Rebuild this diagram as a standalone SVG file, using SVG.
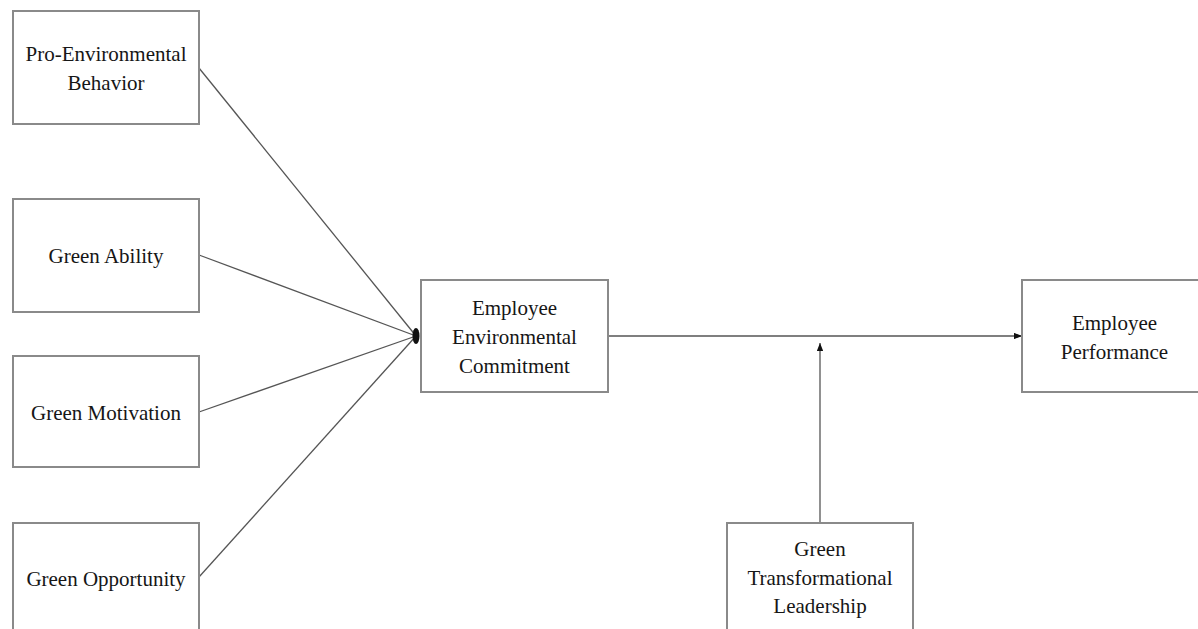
<svg xmlns="http://www.w3.org/2000/svg" width="1198" height="629" viewBox="0 0 1198 629">
  <defs>
    <marker id="arr" viewBox="0 0 10 8" refX="10" refY="4" markerWidth="8" markerHeight="6.4" markerUnits="userSpaceOnUse" orient="auto">
      <path d="M0,0 L10,4 L0,8 z" fill="#111"/>
    </marker>
    <style>
      .box { fill: #fff; stroke: #8a8a8a; stroke-width: 2; }
      .lbl { font-family: "Liberation Serif", "Times New Roman", serif; font-size: 21px; fill: #161616; text-anchor: middle; }
      .conn { stroke: #555; stroke-width: 1.3; fill: none; }
    </style>
  </defs>
  <rect width="1198" height="629" fill="#fff"/>

  <g id="connectors">
    <line class="conn" x1="199" y1="68" x2="416" y2="336"/>
    <line class="conn" x1="199" y1="255" x2="416" y2="336"/>
    <line class="conn" x1="199" y1="412" x2="416" y2="336"/>
    <line class="conn" x1="199" y1="577" x2="416" y2="336"/>
    <ellipse cx="416" cy="336" rx="3.5" ry="8" fill="#111"/>
    <line class="conn" x1="608" y1="336" x2="1022" y2="336" marker-end="url(#arr)"/>
    <line class="conn" x1="820" y1="523" x2="820" y2="343" marker-end="url(#arr)"/>
  </g>

  <g id="node-pro-environmental-behavior">
    <rect class="box" x="13" y="11" width="186" height="113"/>
    <text class="lbl" x="106" y="61">Pro-Environmental</text>
    <text class="lbl" x="106" y="90">Behavior</text>
  </g>

  <g id="node-green-ability">
    <rect class="box" x="13" y="199" width="186" height="113"/>
    <text class="lbl" x="106" y="263">Green Ability</text>
  </g>

  <g id="node-green-motivation">
    <rect class="box" x="13" y="356" width="186" height="111"/>
    <text class="lbl" x="106" y="420">Green Motivation</text>
  </g>

  <g id="node-green-opportunity">
    <rect class="box" x="13" y="523" width="186" height="113"/>
    <text class="lbl" x="106" y="586">Green Opportunity</text>
  </g>

  <g id="node-employee-environmental-commitment">
    <rect class="box" x="421" y="280" width="187" height="112"/>
    <text class="lbl" x="514.5" y="315">Employee</text>
    <text class="lbl" x="514.5" y="344">Environmental</text>
    <text class="lbl" x="514.5" y="373">Commitment</text>
  </g>

  <g id="node-employee-performance">
    <rect class="box" x="1022" y="280" width="186" height="112"/>
    <text class="lbl" x="1114.5" y="330">Employee</text>
    <text class="lbl" x="1114.5" y="359">Performance</text>
  </g>

  <g id="node-green-transformational-leadership">
    <rect class="box" x="727" y="523" width="186" height="113"/>
    <text class="lbl" x="820" y="556">Green</text>
    <text class="lbl" x="820" y="585">Transformational</text>
    <text class="lbl" x="820" y="613">Leadership</text>
  </g>
</svg>
